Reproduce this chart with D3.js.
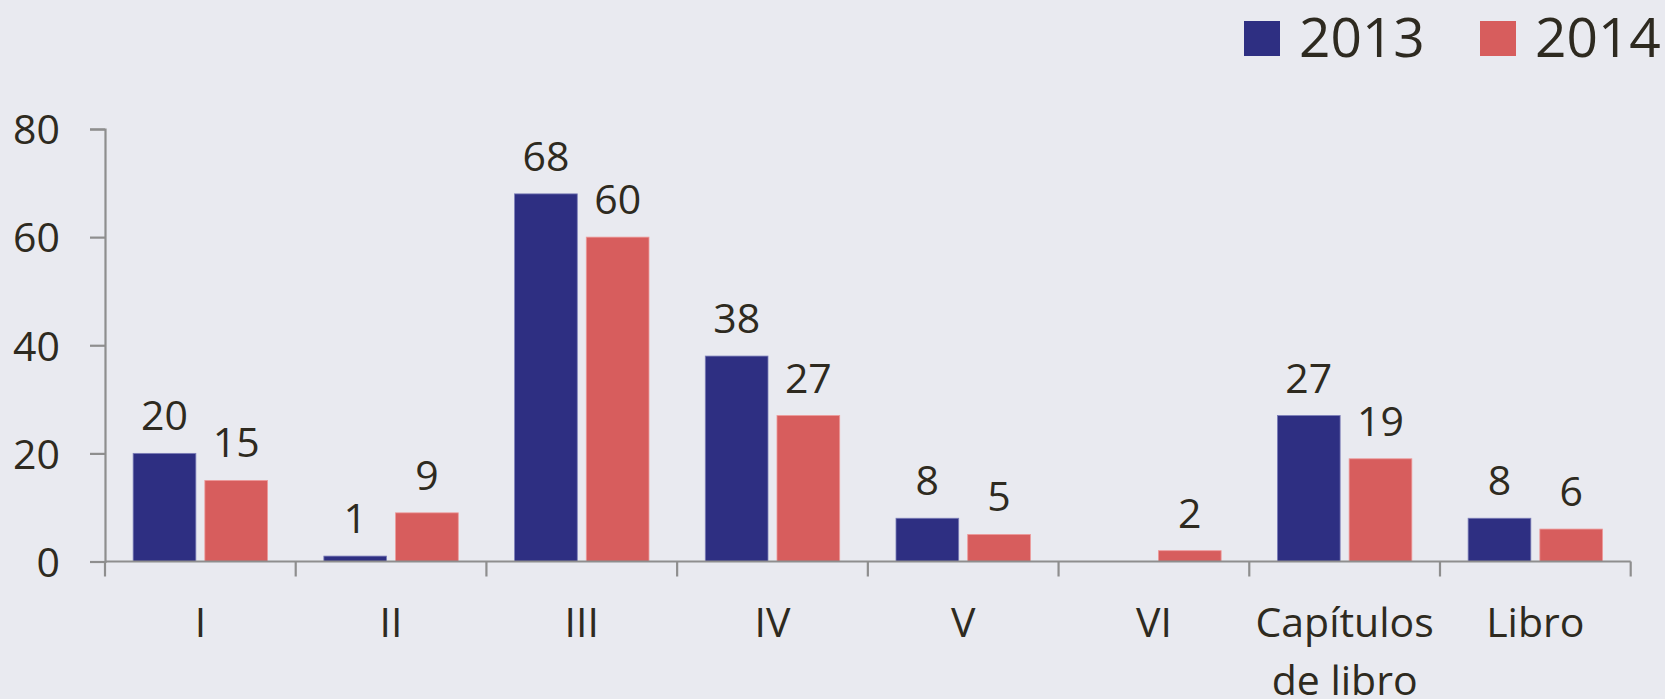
<!DOCTYPE html>
<html><head><meta charset="utf-8">
<script src="https://cdn.jsdelivr.net/npm/d3@7"></script>
<style>
html,body{margin:0;padding:0;background:#E9EAF0;}
svg{display:block;}
text{font-family:"Open Sans",sans-serif;fill:#2E2A20;}
</style></head>
<body><svg id="c" width="1665" height="699"></svg>
<script>
const categories = ["I","II","III","IV","V","VI","Capítulos\nde libro","Libro"];
const seriesNames = ["2013","2014"];
const values2013 = [20,1,68,38,8,null,27,8];
const values2014 = [15,9,60,27,5,2,19,6];
const yTicks = [0,20,40,60,80];
const colors = ["#2E2F82","#D75D5D"];

const svg = d3.select("#c");
const W = 1665, H = 699;
svg.append("rect").attr("width",W).attr("height",H).attr("fill","#E9EAF0");

const x = d3.scaleBand().domain(categories).range([105,1630.7]).padding(0);
const xs = d3.scaleBand().domain(seriesNames).range([0,x.bandwidth()]).paddingInner(0.1255).paddingOuter(0.3925);
const y = d3.scaleLinear().domain([0,80]).range([561.5,129]);

const axisColor = "#8E8E8E";
// y axis
const ya = svg.append("g").attr("transform","translate(105,0)")
  .call(d3.axisLeft(y).tickValues(yTicks).tickSize(15).tickPadding(30));
ya.select(".domain").attr("stroke",axisColor).attr("stroke-width",2.2);
ya.selectAll(".tick line").attr("stroke",axisColor).attr("stroke-width",2.2);
ya.selectAll(".tick text").attr("font-size",41).attr("fill","#2E2A20").attr("font-family","Open Sans").attr("dy","0.36em");

// bars
const data = categories.map((c,i)=>({c, v:[values2013[i],values2014[i]]}));
const g = svg.append("g");
data.forEach(d=>{
  d.v.forEach((v,j)=>{
    if(v==null) return;
    const bx = x(d.c)+xs(seriesNames[j]);
    g.append("rect").attr("x",bx).attr("y",y(v)).attr("width",xs.bandwidth())
      .attr("height",y(0)-y(v)).attr("fill",colors[j])
      .attr("stroke", j===0?"#7C7EB8":"#EE9A9A").attr("stroke-width",0.8);
    g.append("text").attr("x",bx+xs.bandwidth()/2).attr("y",y(v)-23)
      .attr("text-anchor","middle").attr("font-size",41).text(v);
  });
});

// x axis
const xa = svg.append("g");
xa.append("line").attr("x1",x.range()[0]).attr("x2",x.range()[1]).attr("y1",y(0)).attr("y2",y(0))
  .attr("stroke",axisColor).attr("stroke-width",2.2);
const bounds = categories.map(c=>x(c)).concat([x.range()[1]]);
bounds.forEach(b=>{
  xa.append("line").attr("x1",b).attr("x2",b).attr("y1",y(0)).attr("y2",y(0)+15)
    .attr("stroke",axisColor).attr("stroke-width",2.2);
});
categories.forEach(c=>{
  const lines = c.split("\n");
  const t = xa.append("text").attr("x",x(c)+x.bandwidth()/2).attr("y",637)
    .attr("text-anchor","middle").attr("font-size",41);
  lines.forEach((l,i)=>{
    t.append("tspan").attr("x",x(c)+x.bandwidth()/2).attr("dy",i===0?0:58).text(l);
  });
});

// legend
const legX = [1244,1480];
seriesNames.forEach((s,i)=>{
  svg.append("rect").attr("x",legX[i]).attr("y",21).attr("width",36).attr("height",35).attr("fill",colors[i]);
  svg.append("text").attr("x",legX[i]+55).attr("y",56.5).attr("font-size",55).text(s);
});
</script></body></html>
